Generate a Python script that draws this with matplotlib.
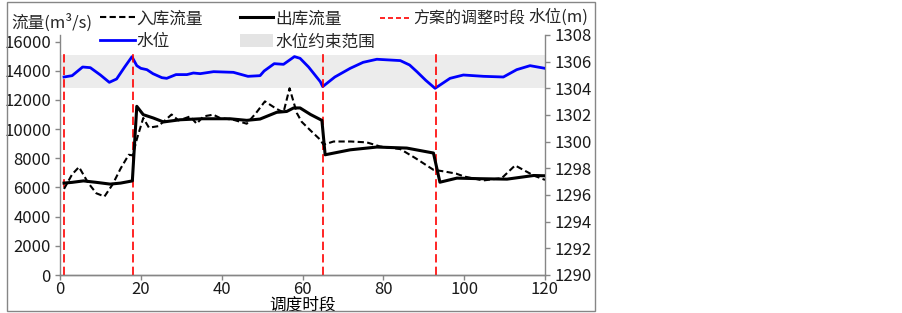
import matplotlib
matplotlib.use('Agg')
import matplotlib.pyplot as plt
from matplotlib.lines import Line2D
from matplotlib.patches import Patch, Rectangle

plt.rcParams['font.family'] = ['Noto Sans CJK SC', 'DejaVu Sans']
plt.rcParams['text.color'] = '#262626'

# inflow (dashed)
t_in = [1, 3, 4.7, 7, 9, 11, 13, 15, 17, 18, 19, 20.6, 22, 24.3, 26, 27.6, 29.3,
        31, 32.2, 33.8, 35.5, 37.9, 39.6, 42.9, 46.2, 48.5, 50.7, 53.6, 55.3,
        56.8, 58.6, 59.8, 62, 64.4, 65.2, 67.7, 72, 75.9, 79.2, 84.2, 88, 92.4,
        95, 98, 100, 104.7, 109.3, 112.6, 117.2, 120]
q_in = [5900, 6900, 7400, 6300, 5600, 5380, 6200, 7300, 8240, 8200, 9300, 10760,
        10100, 10200, 10600, 11000, 10600, 10750, 10870, 10370, 10870, 10990,
        10760, 10640, 10370, 11100, 11900, 11380, 11150, 12800, 11100, 10500,
        9900, 9270, 8930, 9150, 9150, 9090, 8810, 8630, 8000, 7210, 7100, 6950,
        6750, 6480, 6640, 7510, 6820, 6520]

# outflow (solid)
t_out = [1, 3, 5.8, 9, 12.4, 15, 17.9, 19, 20.6, 23.1, 25.6, 29.7, 35, 42, 46.2,
         49.5, 53.6, 56.1, 57.8, 59.4, 62, 64.8, 65.6, 71.8, 78.4, 85.8, 92.4,
         94, 98.2, 104, 110.6, 117.2, 120]
q_out = [6300, 6350, 6450, 6350, 6230, 6300, 6450, 11560, 10990, 10760, 10490,
         10640, 10710, 10710, 10600, 10690, 11150, 11210, 11450, 11450, 11000,
         10600, 8240, 8580, 8770, 8700, 8360, 6360, 6640, 6600, 6570, 6820, 6800]

# water level (right axis)
t_lv = [1, 3, 5.6, 7.5, 10, 12.2, 14, 16, 17.8, 19, 20, 21.5, 23, 25.2, 26.4,
        28.7, 31.4, 33, 34.7, 38, 42.9, 46.5, 49.5, 50.5, 53, 55.3, 58, 59.4,
        61.5, 64.4, 65, 68, 71.8, 75, 78.4, 84.2, 86.5, 88.3, 90.5, 92.8, 96.5,
        99.8, 104.8, 109.7, 113, 116.3, 120]
lv = [1304.85, 1304.95, 1305.6, 1305.55, 1305.0, 1304.45, 1304.7, 1305.6,
      1306.37, 1305.7, 1305.5, 1305.4, 1305.1, 1304.8, 1304.75, 1305.03,
      1305.03, 1305.15, 1305.1, 1305.25, 1305.2, 1304.9, 1304.95, 1305.3,
      1305.85, 1305.8, 1306.38, 1306.25, 1305.6, 1304.5, 1304.13, 1304.85,
      1305.5, 1305.95, 1306.18, 1306.08, 1305.75, 1305.25, 1304.6, 1304.0,
      1304.75, 1305.0, 1304.9, 1304.85, 1305.4, 1305.7, 1305.5]

band_x = [0, 120]
band_low, band_high = 1304, 1306.5
adj_periods = [1, 18, 65, 93]
adj_top = 15400

fig = plt.figure(figsize=(9.03, 3.13), dpi=100)
ax1 = fig.add_axes([60/903, 1-275/313, 485/903, 240/313])
ax2 = ax1.twinx()
ax1.set_zorder(ax2.get_zorder() + 1)
ax1.patch.set_visible(False)

grey = '#868686'
ax2.fill_between(band_x, band_low, band_high, color='#ececec', lw=0, zorder=0)
ax2.plot(t_lv, lv, color='#0000ff', lw=2.0, zorder=3)

ax1.vlines(adj_periods, 0, adj_top, colors='#ff0000', lw=1.2,
           linestyles=(0, (5, 2.5)), zorder=1)
ax1.plot(t_in, q_in, color='black', lw=1.5, dashes=(3, 1.6), zorder=2)
ax1.plot(t_out, q_out, color='black', lw=2.2, zorder=3)

ax1.set_xlim(0, 120)
ax1.set_ylim(0, 16450)
ax2.set_ylim(1290, 1308)
ax1.set_xticks(range(0, 121, 20))
ax1.set_yticks(range(0, 16001, 2000))
ax2.set_yticks(range(1290, 1309, 2))

for a in (ax1, ax2):
    for s in a.spines.values():
        s.set_color(grey)
        s.set_linewidth(1.0)
    a.spines['top'].set_visible(False)
    a.tick_params(colors=grey, labelcolor='#1a1a1a', labelsize=12,
                  length=3.5, width=1.0)
ax1.spines['right'].set_visible(False)
ax2.spines['left'].set_visible(False)
ax1.tick_params(axis='y', pad=3.0)
ax1.tick_params(axis='x', pad=1.0)
ax2.tick_params(axis='y', pad=3.0)

ax1.set_xlabel('调度时段', fontsize=12, va='center')
ax1.xaxis.set_label_coords(0.501, -0.125)

fig.text(51.5/903, 1-23/313, '流量(m³/s)', fontsize=12, ha='center', va='center')
fig.text(528/903, 1-17.3/313, '水位(m)', fontsize=12, ha='left', va='center')

leg_kw = dict(frameon=False, borderpad=0, borderaxespad=0,
              handletextpad=0.1, labelspacing=0.36, loc='upper left')
h_in = Line2D([], [], color='black', lw=1.5, dashes=(3, 1.6))
h_lv = Line2D([], [], color='#0000ff', lw=2.0)
h_out = Line2D([], [], color='black', lw=2.2)
h_band = Patch(facecolor='#e4e4e4', edgecolor='none')
h_adj = Line2D([], [], color='#ff0000', lw=1.2, dashes=(3, 1.8))

leg_top = 1 - 10.3/313
l1 = fig.legend([h_in, h_lv], ['入库流量', '水位'], fontsize=12,
                handlelength=2.1, bbox_to_anchor=(100/903, leg_top), **leg_kw)
l2 = fig.legend([h_out, h_band], ['出库流量', '水位约束范围'], fontsize=12,
                handlelength=2.0, handleheight=0.85,
                bbox_to_anchor=(240/903, leg_top), **leg_kw)
l3 = fig.legend([h_adj], ['方案的调整时段'], fontsize=11.5,
                handlelength=2.0, bbox_to_anchor=(380/903, leg_top), **leg_kw)

fig.patches.append(Rectangle((7/903, 1-311/313), 588/903, 309/313,
                             transform=fig.transFigure, fill=False,
                             edgecolor=grey, lw=1.0))

fig.savefig('out.png', dpi=100)
